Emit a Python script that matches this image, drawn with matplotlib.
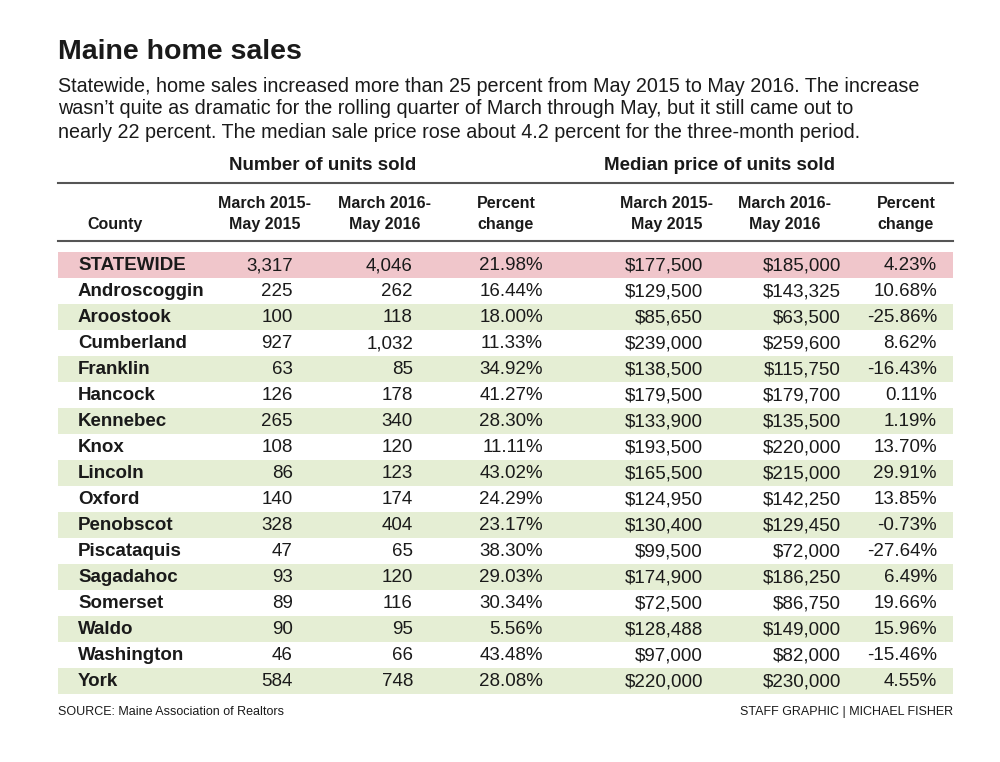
import matplotlib.pyplot as plt
from matplotlib.patches import Rectangle

counties = ["STATEWIDE", "Androscoggin", "Aroostook", "Cumberland", "Franklin", "Hancock",
            "Kennebec", "Knox", "Lincoln", "Oxford", "Penobscot", "Piscataquis",
            "Sagadahoc", "Somerset", "Waldo", "Washington", "York"]
units_2015 = ["3,317", "225", "100", "927", "63", "126", "265", "108", "86", "140", "328",
              "47", "93", "89", "90", "46", "584"]
units_2016 = ["4,046", "262", "118", "1,032", "85", "178", "340", "120", "123", "174", "404",
              "65", "120", "116", "95", "66", "748"]
units_pct = ["21.98%", "16.44%", "18.00%", "11.33%", "34.92%", "41.27%", "28.30%", "11.11%",
             "43.02%", "24.29%", "23.17%", "38.30%", "29.03%", "30.34%", "5.56%", "43.48%", "28.08%"]
price_2015 = ["$177,500", "$129,500", "$85,650", "$239,000", "$138,500", "$179,500", "$133,900",
              "$193,500", "$165,500", "$124,950", "$130,400", "$99,500", "$174,900", "$72,500",
              "$128,488", "$97,000", "$220,000"]
price_2016 = ["$185,000", "$143,325", "$63,500", "$259,600", "$115,750", "$179,700", "$135,500",
              "$220,000", "$215,000", "$142,250", "$129,450", "$72,000", "$186,250", "$86,750",
              "$149,000", "$82,000", "$230,000"]
price_pct = ["4.23%", "10.68%", "-25.86%", "8.62%", "-16.43%", "0.11%", "1.19%", "13.70%",
             "29.91%", "13.85%", "-0.73%", "-27.64%", "6.49%", "19.66%", "15.96%", "-15.46%", "4.55%"]

W, H = 1000, 762
fig = plt.figure(figsize=(10, 7.62), dpi=100)
ax = fig.add_axes([0, 0, 1, 1])
ax.set_xlim(0, W)
ax.set_ylim(H, 0)
ax.axis("off")

sans = ["Liberation Sans", "DejaVu Sans"]
dark = "#1a1a1a"

ax.text(58, 52, "Maine home sales", fontsize=20.5, fontweight="bold", family=sans, color=dark, va="center")
sub = ["Statewide, home sales increased more than 25 percent from May 2015 to May 2016. The increase",
       "wasn\u2019t quite as dramatic for the rolling quarter of March through May, but it still came out to",
       "nearly 22 percent. The median sale price rose about 4.2 percent for the three-month period."]
for i, s in enumerate(sub):
    ax.text(58, 86 + i * 23, s, fontsize=14.2, family=sans, color=dark, va="center")

ax.text(323, 165, "Number of units sold", fontsize=13.5, fontweight="bold", family=sans, color=dark, ha="center", va="center")
ax.text(720, 165, "Median price of units sold", fontsize=13.5, fontweight="bold", family=sans, color=dark, ha="center", va="center")
ax.plot([58, 953], [183, 183], color="#555555", lw=1.5)
ax.plot([58, 953], [241, 241], color="#555555", lw=1.5)

heads = [("March 2015-", "May 2015"), ("March 2016-", "May 2016"), ("Percent", "change")] * 2
centers = [265, 385, 506, 667, 785, 906]
for cx, (a, b) in zip(centers, heads):
    ax.text(cx, 204, a, fontsize=11.5, fontweight="bold", family=sans, color=dark, ha="center", va="center")
    ax.text(cx, 225, b, fontsize=11.5, fontweight="bold", family=sans, color=dark, ha="center", va="center")
ax.text(115, 225, "County", fontsize=11.5, fontweight="bold", family=sans, color=dark, ha="center", va="center")

top, rh = 252, 26
rights = [293, 413, 543, 703, 841, 937]
cols = [units_2015, units_2016, units_pct, price_2015, price_2016, price_pct]
for i, name in enumerate(counties):
    y0 = top + i * rh
    if i == 0:
        fc = "#f0c6cb"
    elif i % 2 == 0:
        fc = "#e5eed4"
    else:
        fc = "white"
    ax.add_patch(Rectangle((58, y0), 895, rh, facecolor=fc, edgecolor="none"))
    yc = y0 + rh / 2 + 1
    ax.text(78, yc, name, fontsize=13.5, fontweight="bold", family=sans, color=dark, va="center")
    for x, col in zip(rights, cols):
        ax.text(x, yc, col[i], fontsize=13.5, family=sans, color=dark, ha="right", va="center")

ax.text(58, 712, "SOURCE: Maine Association of Realtors", fontsize=9, family=sans, color=dark, va="center")
ax.text(953, 712, "STAFF GRAPHIC | MICHAEL FISHER", fontsize=9, family=sans, color=dark, ha="right", va="center")

fig.savefig("out.png", dpi=100, facecolor="white")
